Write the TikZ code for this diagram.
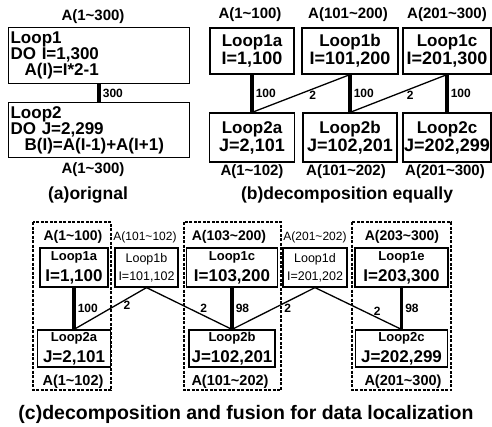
\documentclass[tikz,border=0pt]{standalone}
\usepackage{fontspec}
\setmainfont{Liberation Sans}
\newcommand\rng[2]{A(#1\textasciitilde#2)}
\newcommand\fsz[1]{\fontsize{#1}{#1}\selectfont}
\tikzset{
  loopfig/.style={x=1pt,y=-1pt},
  loopbox/.style={draw,line width=1.2pt,inner sep=1pt,align=center},
  abox/.style={loopbox,anchor=north west,align=left,text width=177pt,inner xsep=2pt,
    font=\bfseries\fontsize{17}{16}\selectfont},
  bbox/.style={loopbox,font=\bfseries\fontsize{18}{18}\selectfont},
  cbox/.style={loopbox,minimum height=39pt,font=\bfseries\fontsize{17}{21}\selectfont},
  sbox/.style={loopbox,minimum height=39pt,font=\fontsize{12.5}{18}\selectfont},
  grpbox/.style={draw,line width=1.3pt,dash pattern=on 3pt off 1.5pt},
  rnglab/.style={font=\bfseries\fsz{15}},
  srnglab/.style={font=\fsz{12}},
  deplab/.style={font=\bfseries\fsz{12},inner sep=2pt},
  dep/.style={line width=3.5pt},
  xdep/.style={line width=1.3pt},
  caplab/.style={font=\bfseries\fsz{17.5}}
}
\begin{document}
\begin{tikzpicture}[loopfig]
  \useasboundingbox (0,0) rectangle (492,426);
  % (a) original loops
  \node[rnglab] (a-top) at (93,17) {\rng{1}{300}};
  \node[abox,minimum height=56pt] (loop1) at (8,27) {Loop1\\DO I=1,300\\\hspace*{14pt}A(I)=I*2-1};
  \node[abox,minimum height=55pt] (loop2) at (8,102) {Loop2\\DO J=2,299\\\hspace*{14pt}B(I)=A(I-1)+A(I+1)};
  \draw[dep] (loop1) -- (loop2) node[midway,right,deplab] {300};
  \node[rnglab] (a-bot) at (93,170) {\rng{1}{300}};
  \node[caplab] (a-cap) at (88,195) {(a)orignal};

  % (b) equal decomposition
  \node[rnglab] (b-t1) at (250,15) {\rng{1}{100}};
  \node[rnglab] (b-t2) at (348,15) {\rng{101}{200}};
  \node[rnglab] (b-t3) at (447,15) {\rng{201}{300}};
  \node[bbox,minimum width=84pt,minimum height=46pt] (loop1a) at (252,51) {{\fsz{17}Loop1a}\\I=1,100};
  \node[bbox,minimum width=96pt,minimum height=46pt] (loop1b) at (350,51) {{\fsz{17}Loop1b}\\I=101,200};
  \node[bbox,minimum width=88pt,minimum height=46pt] (loop1c) at (447,51) {{\fsz{17}Loop1c}\\I=201,300};
  \node[bbox,minimum width=85pt,minimum height=49pt] (loop2a) at (252,137.5) {{\fsz{17}Loop2a}\\J=2,101};
  \node[bbox,minimum width=94pt,minimum height=49pt] (loop2b) at (350,137.5) {{\fsz{17}Loop2b}\\J=102,201};
  \node[bbox,minimum width=88pt,minimum height=49pt] (loop2c) at (447,137.5) {{\fsz{17}Loop2c}\\J=202,299};
  \draw[dep] (loop1a) -- (loop2a) node[midway,right,deplab] {100};
  \draw[xdep] (loop1b.south) -- (loop2a.north) node[pos=0.38,below,deplab] {2};
  \draw[dep] (loop1b) -- (loop2b) node[midway,right,deplab] {100};
  \draw[xdep] (loop1c.south) -- (loop2b.north) node[pos=0.38,below,deplab] {2};
  \draw[dep] (loop1c) -- (loop2c) node[midway,right,deplab] {100};
  \node[rnglab] (b-b1) at (252,172) {\rng{1}{102}};
  \node[rnglab] (b-b2) at (346,172) {\rng{101}{202}};
  \node[rnglab] (b-b3) at (445,172) {\rng{201}{300}};
  \node[caplab] (b-cap) at (347,195) {(b)decomposition equally};

  % (c) decomposition and fusion
  \draw[grpbox] (33,222) rectangle (111,390);
  \draw[grpbox] (184,222) rectangle (281,390);
  \draw[grpbox] (352,222) rectangle (451,390);
  \node[rnglab,font=\bfseries\fsz{14}] (c-t1) at (73,237) {\rng{1}{100}};
  \node[srnglab] (c-t2) at (145,237) {\rng{101}{102}};
  \node[rnglab,font=\bfseries\fsz{14}] (c-t3) at (229,237) {\rng{103}{200}};
  \node[srnglab] (c-t4) at (315,237) {\rng{201}{202}};
  \node[rnglab,font=\bfseries\fsz{14}] (c-t5) at (402,237) {\rng{203}{300}};
  \node[cbox,minimum width=68pt] (c1a) at (74,267.5) {{\fsz{13}Loop1a}\\I=1,100};
  \node[sbox,minimum width=63pt] (c1b) at (146.5,267.5) {Loop1b\\I=101,102};
  \node[cbox,minimum width=91pt] (c1c) at (232,267.5) {{\fsz{13}Loop1c}\\I=103,200};
  \node[sbox,minimum width=64pt] (c1d) at (315,267.5) {Loop1d\\I=201,202};
  \node[cbox,minimum width=93pt] (c1e) at (401.5,267.5) {{\fsz{13}Loop1e}\\I=203,300};
  \node[cbox,minimum width=73pt,minimum height=37pt] (c2a) at (74,348.5) {{\fsz{13}Loop2a}\\J=2,101};
  \node[cbox,minimum width=86pt,minimum height=37pt] (c2b) at (232,348.5) {{\fsz{13}Loop2b}\\J=102,201};
  \node[cbox,minimum width=92pt,minimum height=37pt] (c2c) at (401.5,348.5) {{\fsz{13}Loop2c}\\J=202,299};
  \draw[dep] (c1a) -- (c2a) node[midway,right,deplab] {100};
  \draw[xdep] (c1b.south) -- (c2a.north) node[pos=0.27,below,deplab] {2};
  \draw[xdep] (c1b.south) -- (c2b.north) node[pos=0.67,above,deplab] {2};
  \draw[dep] (c1c) -- (c2b) node[midway,right,deplab] {98};
  \draw[xdep] (c1d.south) -- (c2b.north) node[pos=0.33,below,deplab] {2};
  \draw[xdep] (c1d.south) -- (c2c.north) node[pos=0.72,above,deplab] {2};
  \draw[dep] (c1e) -- (c2c) node[midway,right,deplab] {98};
  \node[rnglab,font=\bfseries\fsz{14.5}] (c-b1) at (73,382) {\rng{1}{102}};
  \node[rnglab,font=\bfseries\fsz{14.5}] (c-b2) at (230,382) {\rng{101}{202}};
  \node[rnglab,font=\bfseries\fsz{14.5}] (c-b3) at (403,382) {\rng{201}{300}};
  \node[caplab,font=\bfseries\fsz{19.5}] (c-cap) at (246,414) {(c)decomposition and fusion for data localization};
\end{tikzpicture}
\end{document}
